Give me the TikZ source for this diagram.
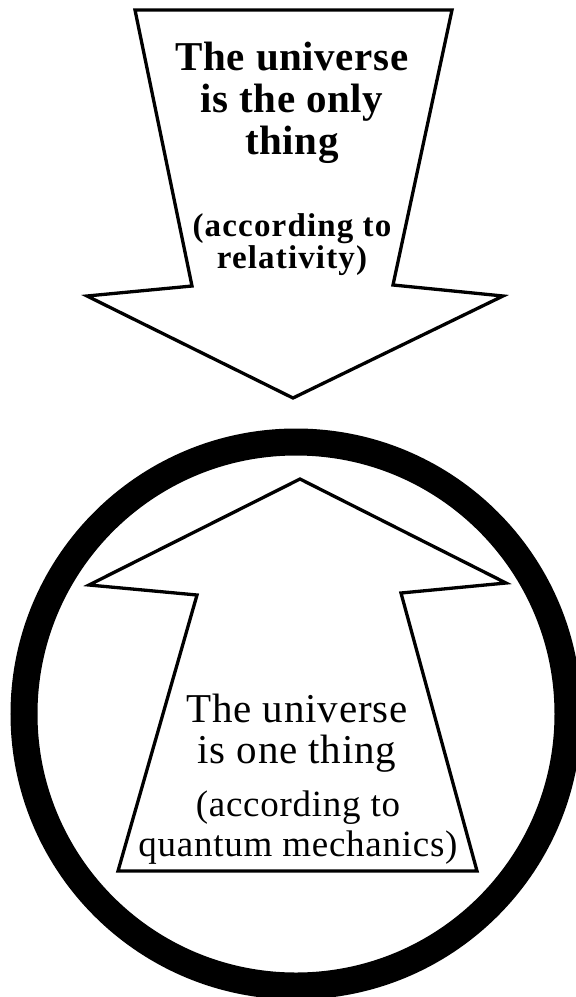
\documentclass[tikz,border=0pt]{standalone}
\usepackage{fontspec}
\setmainfont{Liberation Serif}

\begin{document}
\begin{tikzpicture}[
  x=1pt, y=-1pt,
  arrowline/.style={draw, line width=3.3pt, line join=miter, fill=white},
  toptxt/.style={align=center, font=\fontsize{41}{42}\selectfont\bfseries\addfontfeature{LetterSpace=1.5}},
  topnote/.style={align=center, font=\fontsize{33}{32}\selectfont\bfseries\addfontfeature{LetterSpace=3.5}},
  bottxt/.style={align=center, font=\fontsize{41}{41}\selectfont\addfontfeature{LetterSpace=2}},
  botnote/.style={align=center, font=\fontsize{37}{40}\selectfont\addfontfeature{LetterSpace=2}}
]
  \useasboundingbox (0,0) rectangle (576,997);
  \clip (0,0) rectangle (576,997);

  \draw[line width=27pt] (296,714) circle [radius=272pt];

  \draw[arrowline] (135,10) -- (452,10) -- (393,285) -- (503,296) -- (293,398)
    -- (87,296) -- (192,286) -- cycle;
  \draw[arrowline] (300,479) -- (506,583) -- (401,593) -- (477,871)
    -- (118,871) -- (197,595) -- (89,585) -- cycle;

  \node[toptxt]  (onlything)  at (292,103) {The universe\\is the only\\thing};
  \node[topnote] (relativity) at (292,245) {(according to\\relativity)};
  \node[bottxt]  (onething)   at (297,733) {The universe\\is one thing};
  \node[botnote] (quantum)    at (298,828) {(according to\\quantum mechanics)};
\end{tikzpicture}
\end{document}
